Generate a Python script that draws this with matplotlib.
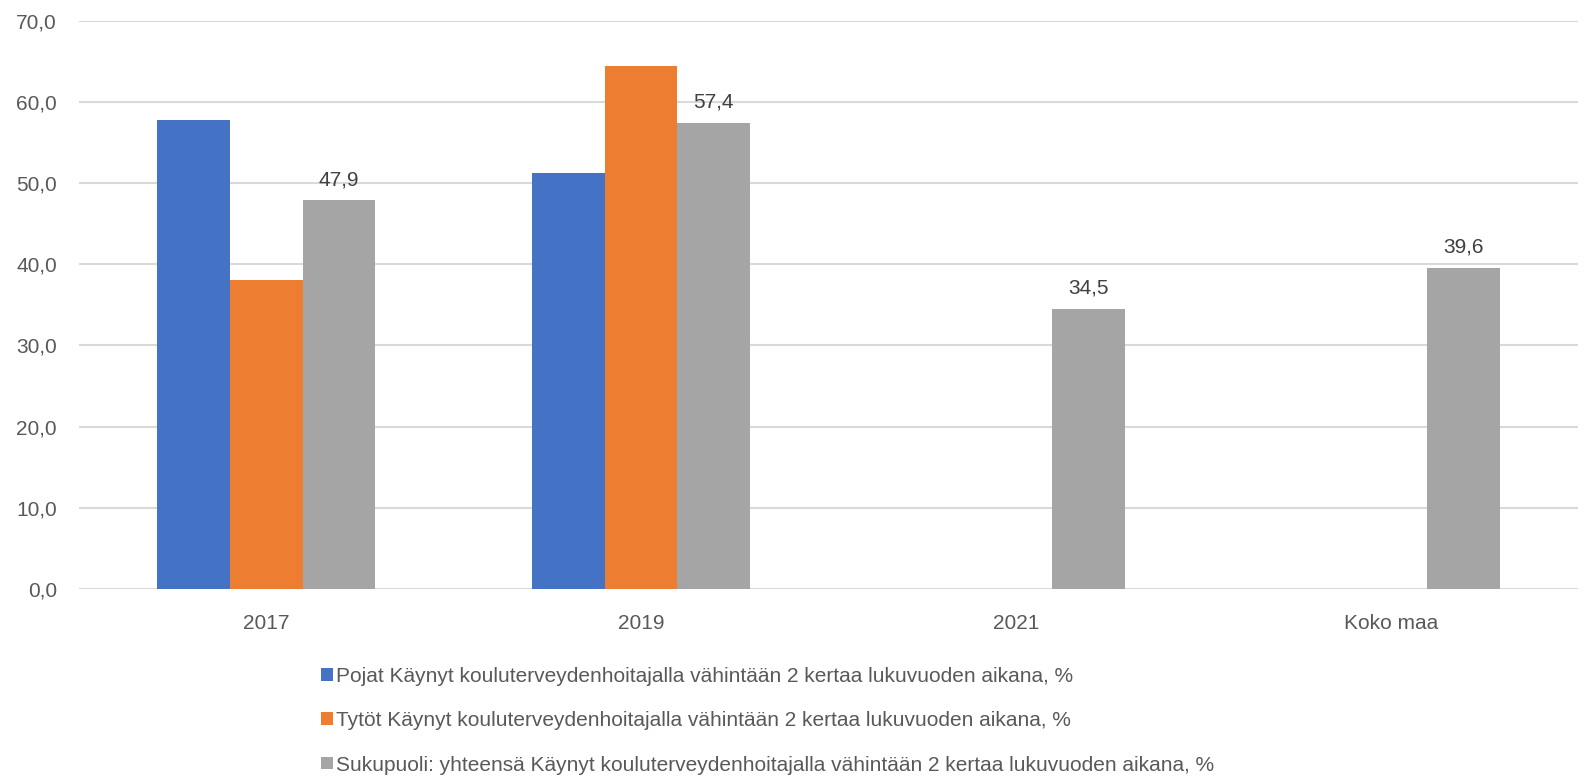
import numpy as np
import matplotlib.pyplot as plt

categories = ['2017', '2019', '2021', 'Koko maa']
pojat = [57.8, 51.3, np.nan, np.nan]
tytot = [38.1, 64.4, np.nan, np.nan]
yhteensa = [47.9, 57.4, 34.5, 39.6]
labels = ['Pojat Käynyt kouluterveydenhoitajalla vähintään 2 kertaa lukuvuoden aikana, %',
          'Tytöt Käynyt kouluterveydenhoitajalla vähintään 2 kertaa lukuvuoden aikana, %',
          'Sukupuoli: yhteensä Käynyt kouluterveydenhoitajalla vähintään 2 kertaa lukuvuoden aikana, %']
colors = ['#4472c4', '#ed7d31', '#a5a5a5']

plt.rcParams['font.family'] = ['Liberation Sans', 'DejaVu Sans']

fig = plt.figure(figsize=(15.93, 7.76), dpi=100)
ax = fig.add_axes([0.0496, 0.241, 0.941, 0.7323])

x = np.arange(len(categories))
w = 0.194
series = [pojat, tytot, yhteensa]
bars = []
for i, (vals, c, lab) in enumerate(zip(series, colors, labels)):
    b = ax.bar(x + (i - 1) * w, vals, w, color=c, label=lab, zorder=3)
    bars.append(b)

for rect, v in zip(bars[2], yhteensa):
    ax.annotate(f'{v:.1f}'.replace('.', ','), (rect.get_x() + rect.get_width() / 2, v),
                xytext=(0, 8), textcoords='offset points', ha='center', va='bottom',
                fontsize=15, color='#404040')

ax.set_ylim(0, 70)
ax.set_xlim(-0.5, 3.5)
ax.set_yticks(np.arange(0, 71, 10))
ax.set_yticklabels([f'{t},0' for t in range(0, 71, 10)])
ax.set_xticks(x)
ax.set_xticklabels(categories)
ax.tick_params(length=0, labelsize=15, colors='#595959')
ax.tick_params(axis='x', pad=18)
ax.tick_params(axis='y', pad=16)
ax.grid(axis='y', color='#d9d9d9', linewidth=1.5, zorder=0)
for s in ax.spines.values():
    s.set_visible(False)

fig.legend(loc='upper left', bbox_to_anchor=(0.19, 0.165), ncol=1, frameon=False,
           fontsize=15, handlelength=0.55, handleheight=0.55, handletextpad=0.15,
           labelspacing=1.22, labelcolor='#595959')

fig.savefig('out.png', dpi=100)
